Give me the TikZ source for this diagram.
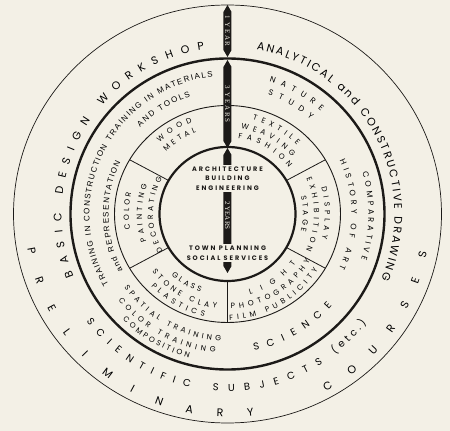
\documentclass[tikz,border=0pt]{standalone}
\usepackage{fontspec}
\setmainfont{Poppins}
\newfontfamily\gothic{Liberation Sans}
\newfontfamily\barfont{Liberation Serif}
\usetikzlibrary{decorations.text,shapes.symbols}

\definecolor{paper}{RGB}{243,240,230}
\definecolor{ink}{RGB}{28,26,24}

\newcommand\fs[1]{\fontsize{#1}{#1}\selectfont}
% radius, start angle, end angle, font, text
\newcommand\ringtext[5]{%
  \path[decorate, decoration={text along path, text align=fit to path,
    text={|#4|#5}}] (c) ++(#2:#1) arc[start angle=#2, end angle=#3, radius=#1];}

\tikzset{
  ring/.style={draw=ink, line width=#1},
  yearbar/.style={shape=signal, signal to=east and west, signal pointer angle=60,
    fill=ink, text=paper, inner sep=0.5pt, minimum height=8,
    font=\barfont\fs{7}\addfontfeature{LetterSpace=25}, rotate=-90},
  centertext/.style={fill=paper, text=ink, inner sep=1.5pt, align=center,
    font=\bfseries\fontsize{6.5}{9.5}\selectfont\addfontfeature{LetterSpace=30}},
}

\begin{document}
\begin{tikzpicture}[x=1pt,y=1pt]
  \useasboundingbox (-227.5,-217) rectangle (222.5,214);
  \fill[paper] (-227.5,-217) rectangle (222.5,214);
  \coordinate (c) at (0,0);

  % Rings
  \draw[ring=0.7] (c) ellipse [x radius=214, y radius=209];
  \draw[ring=2.4] (c) ellipse [x radius=157, y radius=155.5];
  \draw[ring=0.9] (c) ellipse [x radius=113, y radius=108.5];
  \draw[ring=2.2] (c) ellipse [x radius=68, y radius=67];
  \foreach \a in {30,150,210,270,330}
    \draw[ring=0.8] (\a:68 and 67) -- (\a:113 and 108.5);

  % Bars
  \node[yearbar, minimum width=52] (onebar) at (0,183) {1 YEAR};
  \node[yearbar, minimum width=88] (threebar) at (0,110) {3 YEARS};
  \node[yearbar, minimum width=125] (twobar) at (0,3.5) {};
  \node[text=paper, font=\barfont\fs{7}, rotate=-90, inner sep=0] (twolabel) at (0,-1.5) {2 YEARS};

  % Centre
  \node[centertext] (archi) at (0,35.5) {ARCHITECTURE\\BUILDING\\ENGINEERING};
  \node[centertext] (town) at (0,-39) {TOWN PLANNING\\SOCIAL SERVICES};

  % Outer ring
  \ringtext{166}{202}{98}{\fs{11}}{BASIC DESIGN WORKSHOP}
  \ringtext{167}{80}{-23}{\fs{11}}{ANALYTICAL and CONSTRUCTIVE DRAWING}
  \ringtext{203}{189.8}{277.5}{\fs{11}}{PRELIMINARY}
  \ringtext{203}{299}{349.2}{\fs{11}}{COURSES}
  \ringtext{177.5}{217.3}{257.8}{\fs{10}}{SCIENTIFIC}
  \ringtext{177.5}{265.2}{302.5}{\fs{10}}{SUBJECTS}
  \ringtext{176.5}{307.5}{322}{\fs{10}}{(etc.)}

  % Second ring
  \ringtext{138}{210.5}{150.5}{\gothic\fs{8}}{TRAINING IN CONSTRUCTION}
  \ringtext{119}{208.5}{154}{\gothic\fs{8}}{and REPRESENTATION}
  \ringtext{138}{148.3}{96}{\gothic\fs{8}}{TRAINING IN MATERIALS}
  \ringtext{123}{135.2}{107.5}{\gothic\fs{8}}{AND TOOLS}
  \ringtext{139}{72.5}{47.7}{\fs{8}}{NATURE}
  \ringtext{126}{71.3}{48.7}{\fs{8}}{STUDY}
  \ringtext{141}{17}{-18.7}{\fs{8}}{COMPARATIVE}
  \ringtext{124}{25.3}{-25.8}{\fs{8}}{HISTORY OF ART}
  \ringtext{139}{281}{318.8}{\fs{10}}{SCIENCE}
  \ringtext{127}{215.5}{267}{\fs{7.5}}{SPATIAL TRAINING}
  \ringtext{139}{218.3}{265}{\fs{7.5}}{COLOR TRAINING}
  \ringtext{149}{225.3}{255}{\fs{7.5}}{COMPOSITION}

  % Workshops
  \ringtext{98.5}{133.5}{111}{\fs{7.5}}{WOOD}
  \ringtext{87.5}{134.5}{111}{\fs{7.5}}{METAL}
  \ringtext{97.5}{75}{44.5}{\fs{7.5}}{TEXTILE}
  \ringtext{86.5}{81}{41.6}{\fs{7.5}}{WEAVING}
  \ringtext{76.5}{82}{37}{\fs{7.5}}{FASHION}
  \ringtext{97.5}{15.5}{-14.6}{\fs{7.5}}{DISPLAY}
  \ringtext{86.5}{24.2}{-25}{\fs{7.5}}{EXHIBITION}
  \ringtext{75.5}{13.6}{-13.6}{\fs{7.5}}{STAGE}
  \ringtext{98.5}{189}{167.5}{\fs{7.5}}{COLOR}
  \ringtext{85.5}{198.5}{159.8}{\fs{7.5}}{PAINTING}
  \ringtext{74.5}{210}{151}{\fs{7.5}}{DECORATING}
  \ringtext{83}{227.5}{251}{\fs{7.5}}{GLASS}
  \ringtext{95}{217.5}{263.5}{\fs{7.5}}{STONE CLAY}
  \ringtext{105}{223.3}{257.3}{\fs{7.5}}{PLASTICS}
  \ringtext{84}{285.5}{324.5}{\fs{7.5}}{LIGHT}
  \ringtext{95}{272}{330.5}{\fs{7.5}}{PHOTOGRAPHY}
  \ringtext{106}{271}{328.5}{\fs{7.5}}{FILM PUBLICITY}
\end{tikzpicture}
\end{document}
